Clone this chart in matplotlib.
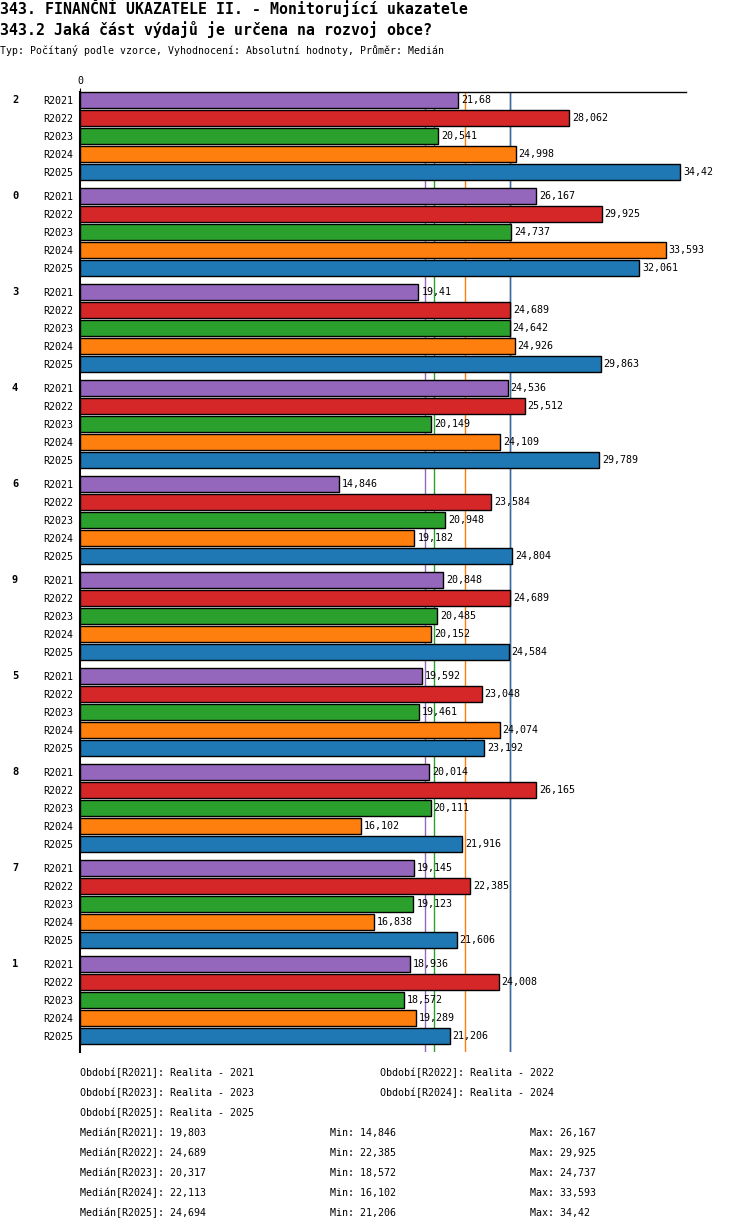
import numpy as np
import matplotlib.pyplot as plt

plt.rcParams['font.family'] = 'DejaVu Sans Mono'

# --- data ---
groups = ["2", "0", "3", "4", "6", "9", "5", "8", "7", "1"]
periods = ["R2021", "R2022", "R2023", "R2024", "R2025"]
period_names = ["Realita - 2021", "Realita - 2022", "Realita - 2023",
                "Realita - 2024", "Realita - 2025"]
r2021 = [21.68, 26.167, 19.41, 24.536, 14.846, 20.848, 19.592, 20.014, 19.145, 18.936]
r2022 = [28.062, 29.925, 24.689, 25.512, 23.584, 24.689, 23.048, 26.165, 22.385, 24.008]
r2023 = [20.541, 24.737, 24.642, 20.149, 20.948, 20.485, 19.461, 20.111, 19.123, 18.572]
r2024 = [24.998, 33.593, 24.926, 24.109, 19.182, 20.152, 24.074, 16.102, 16.838, 19.289]
r2025 = [34.42, 32.061, 29.863, 29.789, 24.804, 24.584, 23.192, 21.916, 21.606, 21.206]
series = [r2021, r2022, r2023, r2024, r2025]
colors = ["#9467bd", "#d62728", "#2ca02c", "#ff7f0e", "#1f77b4"]


def fmt(v):
    s = f"{v:.3f}".rstrip('0').rstrip('.')
    return s.replace('.', ',')


W, H = 750, 1232
fig = plt.figure(figsize=(W / 100, H / 100), dpi=100)

ax = fig.add_axes([80 / W, 1 - 1052 / H, 606 / W, 960 / H])

group_step = 16 / 3
ytick_pos, ytick_lab = [], []
for i, (name, vals, col) in enumerate(zip(periods, series, colors)):
    ys = [g * group_step + i for g in range(len(groups))]
    ax.barh(ys, vals, height=0.86, color=col, edgecolor='black', linewidth=1.0, zorder=3)
    for y, v in zip(ys, vals):
        ax.text(v + 0.17, y, fmt(v), va='center', ha='left', fontsize=7.2, zorder=4)
    ytick_pos += ys
    ytick_lab += [name] * len(ys)

# median lines (red first so blue lies on top)
for vals, col in zip(series, colors):
    ax.axvline(np.median(vals), color=col, linewidth=1.0, zorder=1)

for g, lab in enumerate(groups):
    ax.text(-68 / 17.43, g * group_step, lab, ha='left', va='center',
            fontsize=7.5, fontweight='bold')

ax.set_xlim(0, 606 / 17.432)
ax.set_ylim(9 * group_step + 4 + 16 / 18, -8 / 18)
ax.set_yticks(ytick_pos)
ax.set_yticklabels(ytick_lab, fontsize=7.2)
ax.tick_params(axis='y', length=0, pad=5)
ax.xaxis.tick_top()
ax.set_xticks([0])
ax.set_xticklabels(["0"], fontsize=7.2)
ax.tick_params(axis='x', length=3, pad=1)
ax.spines['right'].set_visible(False)
ax.spines['bottom'].set_visible(False)
ax.spines['left'].set_linewidth(1.5)
ax.spines['top'].set_linewidth(1.0)

# header
fig.text(0, 1 - 8 / H, "343. FINANČNÍ UKAZATELE II. - Monitorující ukazatele",
         fontsize=10.7, fontweight='bold', va='center', ha='left')
fig.text(0, 1 - 30 / H, "343.2 Jaká část výdajů je určena na rozvoj obce?",
         fontsize=10.7, fontweight='bold', va='center', ha='left')
fig.text(0, 1 - 50 / H,
         "Typ: Počítaný podle vzorce, Vyhodnocení: Absolutní hodnoty, Průměr: Medián",
         fontsize=7.1, va='center', ha='left')

# footer
for i, (p, pn) in enumerate(zip(periods, period_names)):
    x = 80 if i % 2 == 0 else 380
    y = 1073 + 20 * (i // 2)
    fig.text(x / W, 1 - y / H, f"Období[{p}]: {pn}", fontsize=7.2, va='center')
for i, (p, vals) in enumerate(zip(periods, series)):
    y = 1133 + 20 * i
    fig.text(80 / W, 1 - y / H, f"Medián[{p}]: {fmt(np.median(vals))}", fontsize=7.2, va='center')
    fig.text(330 / W, 1 - y / H, f"Min: {fmt(min(vals))}", fontsize=7.2, va='center')
    fig.text(530 / W, 1 - y / H, f"Max: {fmt(max(vals))}", fontsize=7.2, va='center')

fig.savefig("out.png", dpi=100)
